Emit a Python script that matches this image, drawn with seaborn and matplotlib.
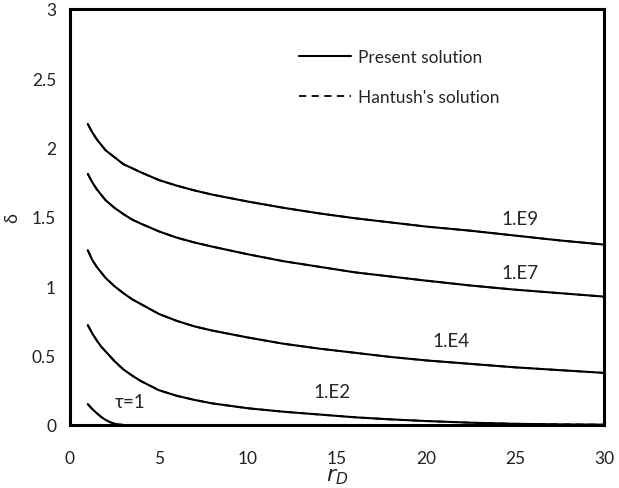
import seaborn as sns
import matplotlib
matplotlib.use("Agg")
import matplotlib.pyplot as plt
import pandas as pnd

# radial distance values
r_grid = [1, 1.25, 1.5, 1.75, 2, 2.5, 3, 3.5, 4, 5, 6, 7, 8, 10, 12, 14, 16, 18,
          20, 22.5, 25, 27.5, 30]
delta_e9 = [2.17, 2.11, 2.06, 2.02, 1.98, 1.93, 1.88, 1.85, 1.82, 1.765, 1.725,
            1.69, 1.66, 1.61, 1.565, 1.525, 1.49, 1.46, 1.43, 1.40, 1.365, 1.33, 1.30]
delta_e7 = [1.81, 1.75, 1.70, 1.66, 1.62, 1.565, 1.52, 1.48, 1.45, 1.395, 1.35,
            1.315, 1.285, 1.23, 1.18, 1.14, 1.10, 1.07, 1.04, 1.005, 0.975, 0.95, 0.925]
delta_e4 = [1.26, 1.19, 1.14, 1.10, 1.06, 1.00, 0.95, 0.905, 0.87, 0.80, 0.75,
            0.71, 0.68, 0.63, 0.585, 0.55, 0.52, 0.49, 0.465, 0.44, 0.415, 0.395, 0.375]
delta_e2 = [0.72, 0.66, 0.61, 0.565, 0.53, 0.46, 0.40, 0.355, 0.315, 0.25, 0.21,
            0.18, 0.155, 0.12, 0.095, 0.075, 0.055, 0.04, 0.028, 0.016, 0.008, 0.004, 0.002]
r_tau1 = [1, 1.25, 1.5, 1.75, 2, 2.25, 2.5, 2.75, 3]
delta_tau1 = [0.15, 0.115, 0.085, 0.058, 0.036, 0.02, 0.009, 0.003, 0.0]

curve_labels = ["1.E9", "1.E7", "1.E4", "1.E2", "τ=1"]
label_pos = [(25.3, 1.49), (25.3, 1.10), (21.4, 0.61), (14.7, 0.24), (3.4, 0.17)]

sns.set_style("white")
plt.rcParams['font.family'] = ['Lato', 'DejaVu Sans']
plt.rcParams['font.size'] = 12.5

fig = plt.figure(figsize=(6.19, 4.89), dpi=100)
ax = fig.add_axes([0.113, 0.129, 0.863, 0.851])

series = [(r_grid, delta_e9), (r_grid, delta_e7), (r_grid, delta_e4),
          (r_grid, delta_e2), (r_tau1, delta_tau1)]
frames = []
for name, (r, d) in zip(curve_labels, series):
    frames.append(pnd.DataFrame({"r": r, "delta": d, "curve": name}))
df = pnd.concat(frames, ignore_index=True)

for i, name in enumerate(curve_labels):
    sub = df[df["curve"] == name]
    sns.lineplot(data=sub, x="r", y="delta", ax=ax, color="black", lw=1.5,
                 label="Present solution" if i == 0 else None)
    sns.lineplot(data=sub, x="r", y="delta", ax=ax, color="black", lw=1.3,
                 linestyle=(0, (4, 3)),
                 label="Hantush's solution" if i == 0 else None)

for name, (x, y) in zip(curve_labels, label_pos):
    ax.text(x, y, name, ha="center", va="center", fontsize=13.5)

ax.set_xlim(0, 30)
ax.set_ylim(0, 3)
ax.set_xticks([0, 5, 10, 15, 20, 25, 30])
ax.set_yticks([0, 0.5, 1, 1.5, 2, 2.5, 3])
ax.set_yticklabels(["0", "0.5", "1", "1.5", "2", "2.5", "3"])
ax.tick_params(axis="both", direction="out", length=4, width=1, color="#888888",
               labelsize=12.5, labelcolor="#222222")
ax.tick_params(axis="x", pad=14)
ax.tick_params(axis="y", pad=6)
for s in ax.spines.values():
    s.set_color("black")
    s.set_linewidth(2.2)

ax.set_xlabel(r"$r_D$", fontsize=16, labelpad=0)
ax.set_ylabel("δ", fontsize=13, labelpad=8)

ax.legend(loc="upper left", bbox_to_anchor=(0.40, 0.94), frameon=False,
          handlelength=3.0, handletextpad=0.4, labelspacing=1.35, fontsize=12.5)

fig.savefig("out.png", dpi=100)
